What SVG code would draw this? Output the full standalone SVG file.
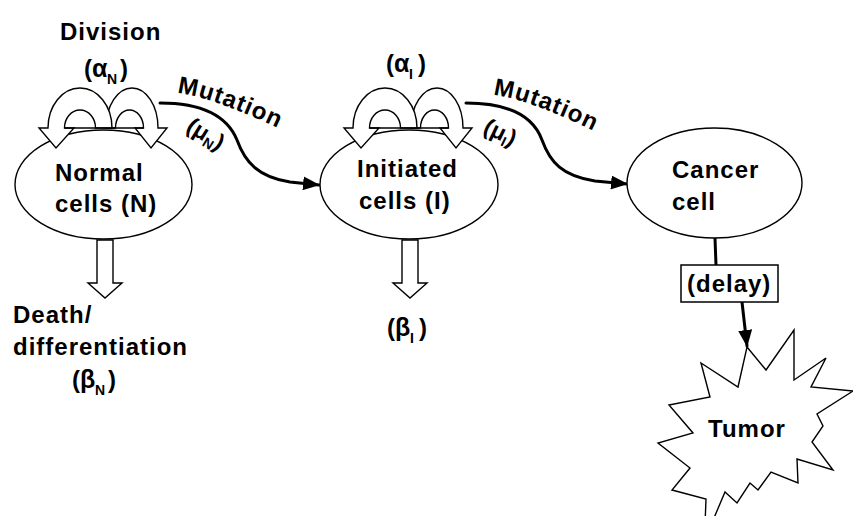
<svg xmlns="http://www.w3.org/2000/svg" xmlns:xlink="http://www.w3.org/1999/xlink" width="853" height="516" viewBox="0 0 853 516">
  <style>
    .lbl { font-family: "Liberation Sans", Arial, sans-serif; font-weight: bold; font-size: 24px; fill: #000; letter-spacing: 1px; }
    .sub { font-size: 14px; letter-spacing: 0; }
    .greek { font-size: 25px; letter-spacing: 0; }
    .small { font-size: 23px; letter-spacing: 0; }
    .cell { fill: #fff; stroke: #000; stroke-width: 1.4; }
    .hollow { fill: #fff; stroke: #000; stroke-width: 1.4; stroke-linejoin: miter; }
    .wire { fill: none; stroke: #000; stroke-width: 3; stroke-linecap: round; }
    .box { fill: #fff; stroke: #000; stroke-width: 1.5; }
  </style>
  <defs>
    <marker id="head" viewBox="0 0 17 14" refX="16" refY="7" markerWidth="17" markerHeight="14" markerUnits="userSpaceOnUse" orient="auto">
      <path d="M0,0 L17,7 L0,14 Z" fill="#000"/>
    </marker>
    <!-- self-renewal loop: two hollow U-turn arrows pointing back into the cell -->
    <g id="division-loop">
      <path class="hollow" d="M106,128 A26,40 0 0 1 158,128 L167,128 L151,148 L135,128 L143.5,128 A14,18 0 0 0 115.5,128 Z"/>
      <path class="hollow" d="M48,128 L39,128 L56,148 L74,128 L64.5,128 A15.5,18 0 0 1 95.5,128 L112,128 A32,40 0 0 0 48,128 Z"/>
      <line x1="64.5" y1="128" x2="143.5" y2="128" stroke="#000" stroke-width="1.4"/>
    </g>
    <!-- hollow outflow arrow (death / differentiation) -->
    <path id="outflow" d="M-8,0 L-8,43 L-17,43 L0,58 L17,43 L8,43 L8,0 Z"/>
    <path id="mut-path-1" d="M177,93 Q210,96 282,130 L300,138.5"/>
    <path id="mut-path-2" d="M493,95 Q526,98 598,133 L616,141.5"/>
  </defs>

  <!-- connectors -->
  <g id="connectors">
    <path class="wire" d="M160,103 C205,103 228,118 237,140 C245,162 258,177 290,182 L319,185" marker-end="url(#head)"/>
    <path class="wire" d="M466,103 C512,103 534,118 542,140 C550,162 562,176 595,181 L627,184" marker-end="url(#head)"/>
    <line class="wire" x1="715" y1="238" x2="716" y2="265"/>
    <line class="wire" x1="742" y1="302" x2="747" y2="346" marker-end="url(#head)"/>
    <use xlink:href="#outflow" class="hollow" transform="translate(105,240)"/>
    <use xlink:href="#outflow" class="hollow" transform="translate(410,240)"/>
  </g>

  <!-- normal cells -->
  <g id="normal-cells">
    <ellipse class="cell" cx="103.5" cy="184.5" rx="88.5" ry="54.5"/>
    <use xlink:href="#division-loop"/>
    <text class="lbl" x="55" y="181">Normal</text>
    <text class="lbl" x="55" y="212">cells (N)</text>
    <text class="lbl" x="60" y="40">Division</text>
    <text class="lbl"><tspan x="84" y="77">(</tspan><tspan class="greek" x="92" y="77">α</tspan><tspan class="sub" x="107" y="84">N</tspan><tspan x="120" y="77">)</tspan></text>
    <text class="lbl" x="13" y="323">Death/</text>
    <text class="lbl" x="13" y="355">differentiation</text>
    <text class="lbl"><tspan x="72" y="388">(</tspan><tspan class="greek" x="80" y="388">β</tspan><tspan class="sub" x="95" y="395">N</tspan><tspan x="108" y="388">)</tspan></text>
  </g>

  <!-- initiated cells -->
  <g id="initiated-cells">
    <ellipse class="cell" cx="409" cy="184.5" rx="89" ry="54.5"/>
    <use xlink:href="#division-loop" x="305"/>
    <text class="lbl" x="357" y="177">Initiated</text>
    <text class="lbl" x="359" y="209">cells (I)</text>
    <text class="lbl"><tspan x="386" y="72">(</tspan><tspan class="greek" x="394" y="72">α</tspan><tspan class="sub" x="409" y="79">I</tspan><tspan x="418" y="72">)</tspan></text>
    <text class="lbl"><tspan x="387" y="336">(</tspan><tspan class="greek" x="395" y="336">β</tspan><tspan class="sub" x="410" y="343">I</tspan><tspan x="419" y="336">)</tspan></text>
  </g>

  <!-- mutation labels -->
  <g id="mutation-n">
    <text class="lbl"><textPath xlink:href="#mut-path-1">Mutation</textPath></text>
    <text class="lbl small" transform="translate(185,130) rotate(32)">(μ<tspan class="sub" dy="4">N</tspan><tspan dy="-4">)</tspan></text>
  </g>
  <g id="mutation-i">
    <text class="lbl"><textPath xlink:href="#mut-path-2">Mutation</textPath></text>
    <text class="lbl small" transform="translate(482,132) rotate(26)">(μ<tspan class="sub" dy="4">I</tspan><tspan dy="-4">)</tspan></text>
  </g>

  <!-- cancer cell -->
  <g id="cancer-cell">
    <ellipse class="cell" cx="714.5" cy="183" rx="87.5" ry="55"/>
    <text class="lbl" x="672" y="178">Cancer</text>
    <text class="lbl" x="672" y="210">cell</text>
  </g>

  <!-- delay -->
  <g id="delay">
    <rect class="box" x="681" y="265" width="97" height="37"/>
    <text class="lbl" x="687" y="292">(delay)</text>
  </g>

  <!-- tumor -->
  <g id="tumor">
    <polygon class="hollow" points="747,347 766,370 794,330 794,380 826,358 811,387 853,391 817,414 823,426 812,442 833,470 797,459 798,483 771,472 758,490 750,483 737,503 725,492 711,525 705,525 706,499 672,490 690,468 658,443 693,433 669,405 710,397 701,363 738,387"/>
    <text class="lbl" x="708" y="437">Tumor</text>
  </g>
</svg>
